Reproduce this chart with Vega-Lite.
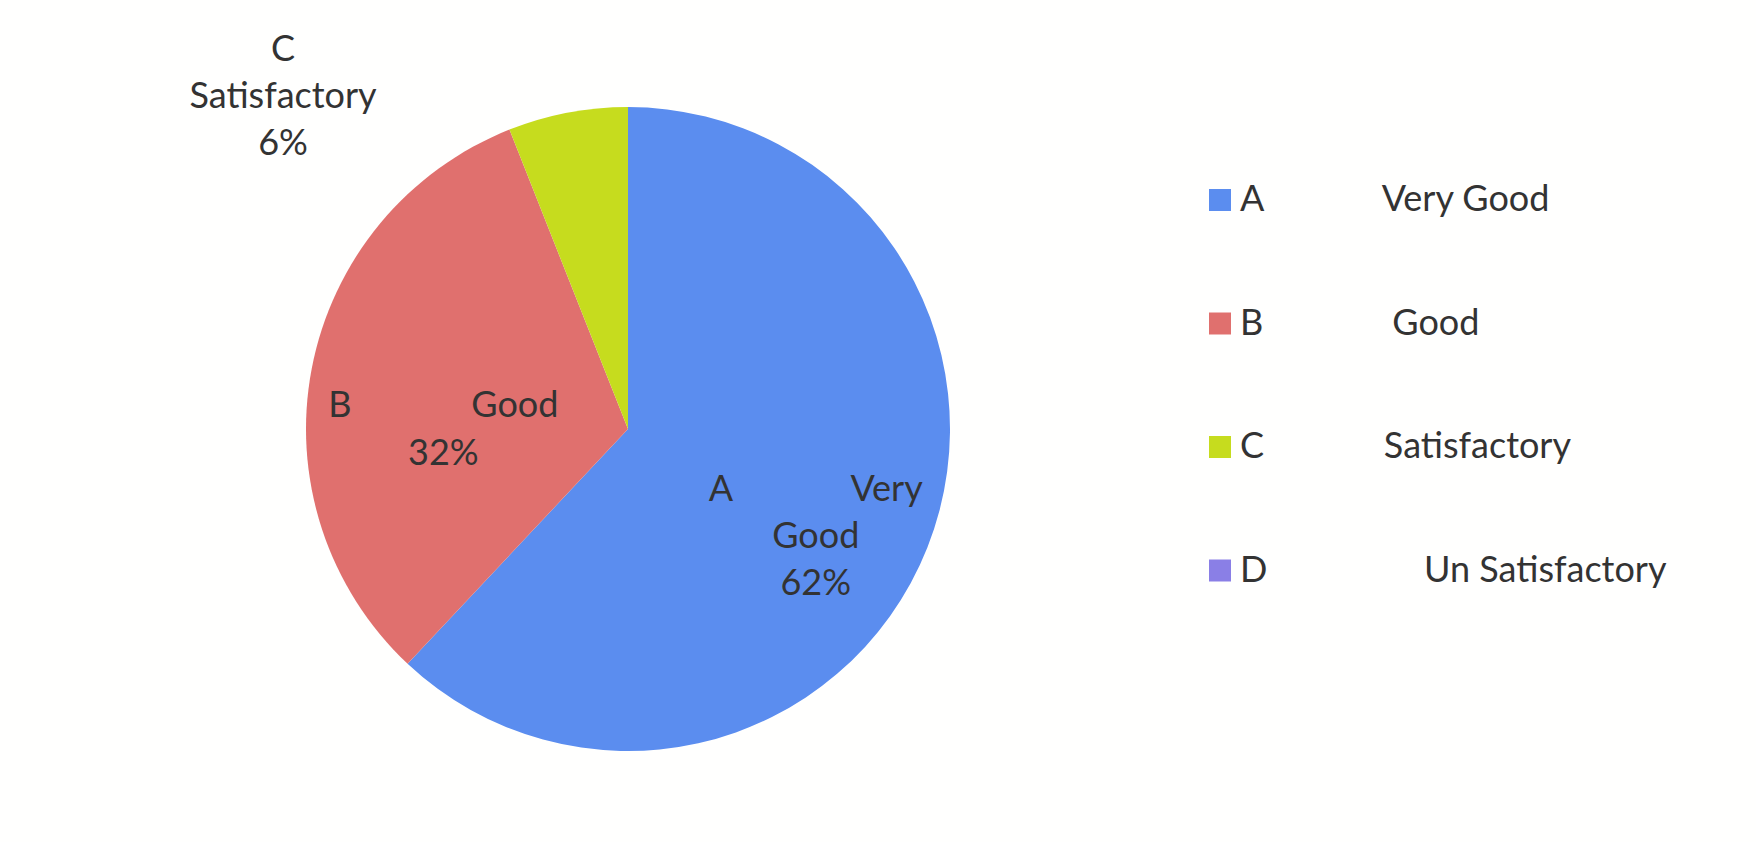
{
  "$schema": "https://vega.github.io/schema/vega-lite/v6.json",
  "width": 1256,
  "height": 826,
  "autosize": {"type": "none"},
  "padding": {"left": 0, "top": 16, "right": 500, "bottom": 0},
  "background": "#fffffe",
  "config": {"view": {"stroke": null}},
  "data": {
    "values": [
      {"category": "A", "description": "Very Good", "value": 62},
      {"category": "B", "description": "Good", "value": 32},
      {"category": "C", "description": "Satisfactory", "value": 6},
      {"category": "D", "description": "Un Satisfactory", "value": 0}
    ]
  },
  "encoding": {
    "theta": {"field": "value", "type": "quantitative", "stack": true},
    "order": {"field": "category", "type": "ordinal"}
  },
  "layer": [
    {
      "mark": {"type": "arc", "outerRadius": 322, "strokeWidth": 0},
      "encoding": {
        "color": {
          "field": "category",
          "type": "nominal",
          "scale": {"domain": ["A", "B", "C", "D"], "range": ["#5B8DEF", "#E0706E", "#C6DC1E", "#8A7FE6"]},
          "legend": {
            "orient": "none",
            "legendX": 1202,
            "legendY": 166,
            "title": null,
            "padding": 0,
            "symbolType": "square",
            "symbolSize": 484,
            "symbolStrokeWidth": 0,
            "labelFont": "Lato",
            "labelFontSize": 36,
            "labelColor": "#333333",
            "labelLimit": 0,
            "labelOffset": 2,
            "rowPadding": 87.5,
            "labelExpr": "datum.label === 'A' ? 'A\u00a0\u00a0\u00a0\u00a0\u00a0\u00a0\u00a0\u00a0\u00a0\u00a0\u00a0\u00a0\u00a0Very Good' : datum.label === 'B' ? 'B\u00a0\u00a0\u00a0\u00a0\u00a0\u00a0\u00a0\u00a0\u00a0\u00a0\u00a0\u00a0\u00a0\u00a0Good' : datum.label === 'C' ? 'C\u00a0\u00a0\u00a0\u00a0\u00a0\u00a0\u00a0\u00a0\u00a0\u00a0\u00a0\u00a0\u00a0Satisfactory' : 'D\u00a0\u00a0\u00a0\u00a0\u00a0\u00a0\u00a0\u00a0\u00a0\u00a0\u00a0\u00a0\u00a0\u00a0\u00a0\u00a0\u00a0Un Satisfactory'"
          }
        }
      }
    },
    {
      "transform": [
        {"calculate": "datum.category === 'A' ? [datum.category + '\u00a0\u00a0\u00a0\u00a0\u00a0\u00a0\u00a0\u00a0\u00a0\u00a0\u00a0\u00a0\u00a0' + split(datum.description, ' ')[0], split(datum.description, ' ')[1], datum.value + '%'] : ''", "as": "lbl"}
      ],
      "mark": {"type": "text", "radius": 217, "dx": -14, "dy": -19, "font": "Lato", "fontSize": 36, "lineHeight": 47, "color": "#333333", "align": "center", "baseline": "middle"},
      "encoding": {"text": {"field": "lbl"}}
    },
    {
      "transform": [
        {"calculate": "datum.category === 'B' ? [datum.category + '\u00a0\u00a0\u00a0\u00a0\u00a0\u00a0\u00a0\u00a0\u00a0\u00a0\u00a0\u00a0\u00a0' + datum.description, datum.value + '%'] : ''", "as": "lbl"}
      ],
      "mark": {"type": "text", "radius": 188, "dx": 0, "dy": 12, "font": "Lato", "fontSize": 36, "lineHeight": 48, "color": "#333333", "align": "center", "baseline": "middle"},
      "encoding": {"text": {"field": "lbl"}}
    },
    {
      "transform": [
        {"calculate": "datum.category === 'C' ? [datum.category, datum.description, datum.value + '%'] : ''", "as": "lbl"}
      ],
      "mark": {"type": "text", "radius": 400, "dx": -270, "dy": 14, "font": "Lato", "fontSize": 36, "lineHeight": 47, "color": "#333333", "align": "center", "baseline": "middle"},
      "encoding": {"text": {"field": "lbl"}}
    }
  ]
}
